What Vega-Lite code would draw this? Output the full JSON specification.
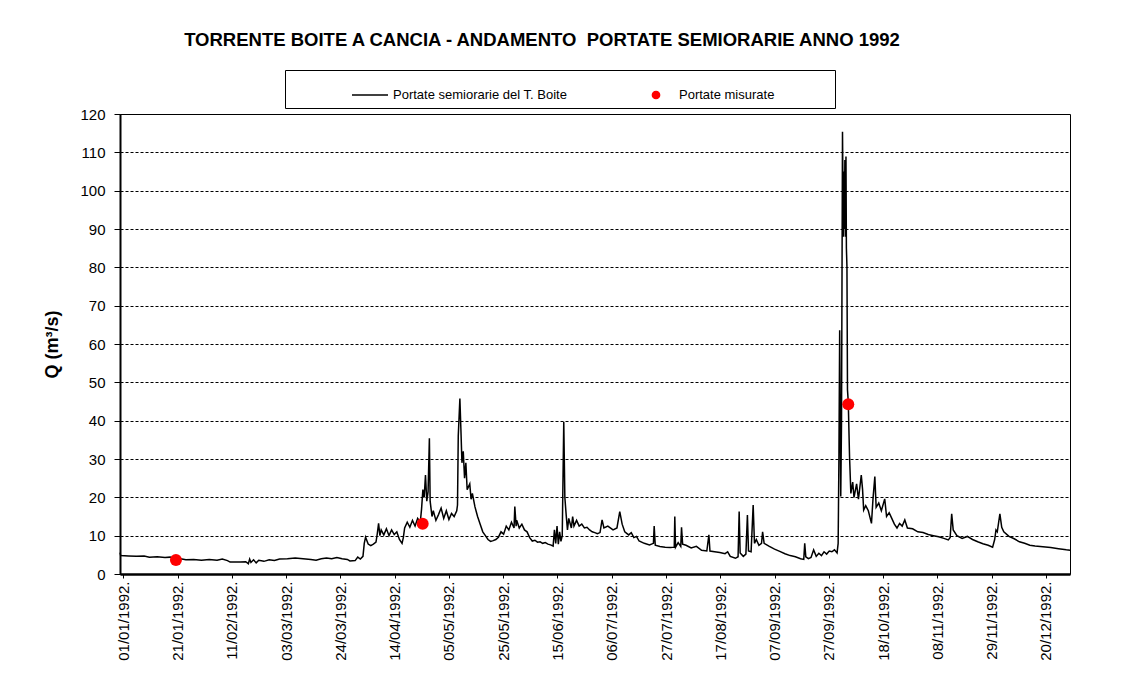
{
 "$schema": "https://vega.github.io/schema/vega-lite/v6.json",
 "width": 950, "height": 460,
 "autosize": "none",
 "padding": {"left": 120, "top": 114, "right": 60, "bottom": 119},
 "background": "white",
 "config": {"font": "Liberation Sans", "view": {"stroke": "black", "strokeWidth": 1}},
 "title": {"text": "TORRENTE BOITE A CANCIA - ANDAMENTO\u00a0 PORTATE SEMIORARIE ANNO 1992", "fontSize": 18.5, "fontWeight": "bold", "color": "black", "anchor": "middle", "dx": -53, "offset": 20, "font": "Liberation Sans"},
 "datasets": {
  "portate": [
   {"t":"1991-12-30T18:00Z","q":5.6},{"t":"1991-12-31T00:00Z","q":4.8},{"t":"1992-01-03T00:00Z","q":4.7},{"t":"1992-01-06T00:00Z","q":4.6},{"t":"1992-01-09T00:00Z","q":4.7},{"t":"1992-01-11T00:00Z","q":4.4},{"t":"1992-01-14T00:00Z","q":4.5},{"t":"1992-01-17T00:00Z","q":4.3},{"t":"1992-01-19T00:00Z","q":4.4},{"t":"1992-01-21T00:00Z","q":3.9},{"t":"1992-01-23T00:00Z","q":4.0},{"t":"1992-01-25T00:00Z","q":3.7},{"t":"1992-01-28T00:00Z","q":3.8},{"t":"1992-01-31T00:00Z","q":3.6},
   {"t":"1992-02-03T00:00Z","q":3.8},{"t":"1992-02-06T00:00Z","q":3.6},{"t":"1992-02-08T00:00Z","q":3.9},{"t":"1992-02-10T00:00Z","q":3.5},{"t":"1992-02-11T00:00Z","q":3.1},{"t":"1992-02-15T00:00Z","q":3.1},{"t":"1992-02-17T00:00Z","q":3.2},{"t":"1992-02-18T00:00Z","q":2.7},{"t":"1992-02-18T12:00Z","q":3.9},{"t":"1992-02-19T00:00Z","q":3.0},{"t":"1992-02-20T00:00Z","q":3.7},{"t":"1992-02-21T00:00Z","q":2.9},{"t":"1992-02-22T00:00Z","q":3.6},{"t":"1992-02-24T00:00Z","q":3.3},{"t":"1992-02-26T00:00Z","q":3.7},{"t":"1992-02-28T00:00Z","q":3.5},
   {"t":"1992-03-01T00:00Z","q":3.9},{"t":"1992-03-04T00:00Z","q":4.0},{"t":"1992-03-07T00:00Z","q":4.2},{"t":"1992-03-10T00:00Z","q":4.0},{"t":"1992-03-13T00:00Z","q":3.8},{"t":"1992-03-15T00:00Z","q":3.6},{"t":"1992-03-17T00:00Z","q":4.0},{"t":"1992-03-19T00:00Z","q":4.2},{"t":"1992-03-21T00:00Z","q":4.0},{"t":"1992-03-23T00:00Z","q":4.3},{"t":"1992-03-25T00:00Z","q":4.0},{"t":"1992-03-27T00:00Z","q":3.8},{"t":"1992-03-28T00:00Z","q":3.4},{"t":"1992-03-30T00:00Z","q":3.5},{"t":"1992-03-31T00:00Z","q":4.4},
   {"t":"1992-04-01T00:00Z","q":3.9},{"t":"1992-04-02T00:00Z","q":4.6},{"t":"1992-04-02T12:00Z","q":8.0},{"t":"1992-04-03T00:00Z","q":9.6},{"t":"1992-04-04T00:00Z","q":7.8},{"t":"1992-04-05T00:00Z","q":7.4},{"t":"1992-04-06T00:00Z","q":7.8},{"t":"1992-04-07T00:00Z","q":8.3},{"t":"1992-04-07T12:00Z","q":10.5},{"t":"1992-04-08T00:00Z","q":13.2},{"t":"1992-04-08T12:00Z","q":10.0},{"t":"1992-04-09T00:00Z","q":11.5},{"t":"1992-04-10T00:00Z","q":10.2},{"t":"1992-04-11T00:00Z","q":11.8},{"t":"1992-04-12T00:00Z","q":10.0},{"t":"1992-04-13T00:00Z","q":11.5},{"t":"1992-04-14T00:00Z","q":10.3},{"t":"1992-04-15T00:00Z","q":11.0},{"t":"1992-04-16T00:00Z","q":9.0},{"t":"1992-04-17T00:00Z","q":8.0},{"t":"1992-04-17T12:00Z","q":9.5},{"t":"1992-04-18T00:00Z","q":12.0},{"t":"1992-04-19T00:00Z","q":13.5},{"t":"1992-04-20T00:00Z","q":12.2},{"t":"1992-04-21T00:00Z","q":14.0},{"t":"1992-04-22T00:00Z","q":12.5},{"t":"1992-04-23T00:00Z","q":14.5},{"t":"1992-04-24T00:00Z","q":13.5},{"t":"1992-04-24T12:00Z","q":17.0},{"t":"1992-04-25T00:00Z","q":22.0},{"t":"1992-04-25T12:00Z","q":20.0},{"t":"1992-04-26T00:00Z","q":25.8},{"t":"1992-04-26T12:00Z","q":19.0},{"t":"1992-04-27T00:00Z","q":21.5},{"t":"1992-04-27T12:00Z","q":35.4},{"t":"1992-04-27T19:00Z","q":19.0},{"t":"1992-04-28T12:00Z","q":15.0},{"t":"1992-04-29T00:00Z","q":16.5},{"t":"1992-04-30T00:00Z","q":14.0},
   {"t":"1992-05-01T00:00Z","q":15.5},{"t":"1992-05-02T00:00Z","q":17.2},{"t":"1992-05-03T00:00Z","q":14.5},{"t":"1992-05-04T00:00Z","q":16.5},{"t":"1992-05-05T00:00Z","q":14.2},{"t":"1992-05-06T00:00Z","q":15.8},{"t":"1992-05-07T00:00Z","q":15.0},{"t":"1992-05-08T00:00Z","q":16.5},{"t":"1992-05-08T07:00Z","q":18.0},{"t":"1992-05-08T14:00Z","q":36.0},{"t":"1992-05-09T05:00Z","q":45.8},{"t":"1992-05-09T14:00Z","q":38.0},{"t":"1992-05-10T00:00Z","q":29.0},{"t":"1992-05-10T12:00Z","q":32.0},{"t":"1992-05-11T00:00Z","q":25.0},{"t":"1992-05-11T12:00Z","q":29.0},{"t":"1992-05-12T00:00Z","q":22.0},{"t":"1992-05-13T00:00Z","q":23.5},{"t":"1992-05-13T12:00Z","q":19.5},{"t":"1992-05-14T00:00Z","q":21.0},{"t":"1992-05-15T00:00Z","q":17.5},{"t":"1992-05-16T00:00Z","q":15.0},{"t":"1992-05-17T00:00Z","q":13.0},{"t":"1992-05-18T00:00Z","q":11.0},{"t":"1992-05-19T00:00Z","q":10.0},{"t":"1992-05-20T00:00Z","q":9.0},{"t":"1992-05-21T00:00Z","q":8.5},{"t":"1992-05-22T00:00Z","q":8.7},{"t":"1992-05-23T00:00Z","q":9.0},{"t":"1992-05-24T00:00Z","q":9.6},{"t":"1992-05-25T00:00Z","q":11.0},{"t":"1992-05-26T00:00Z","q":10.4},{"t":"1992-05-27T00:00Z","q":12.5},{"t":"1992-05-28T00:00Z","q":11.5},{"t":"1992-05-29T00:00Z","q":13.5},{"t":"1992-05-30T00:00Z","q":12.0},{"t":"1992-05-30T07:00Z","q":17.6},{"t":"1992-05-30T19:00Z","q":12.5},{"t":"1992-05-31T00:00Z","q":14.0},
   {"t":"1992-06-01T00:00Z","q":12.0},{"t":"1992-06-02T00:00Z","q":13.0},{"t":"1992-06-03T00:00Z","q":11.5},{"t":"1992-06-04T00:00Z","q":11.0},{"t":"1992-06-05T00:00Z","q":9.5},{"t":"1992-06-06T00:00Z","q":8.6},{"t":"1992-06-07T00:00Z","q":8.8},{"t":"1992-06-08T00:00Z","q":8.3},{"t":"1992-06-09T00:00Z","q":8.4},{"t":"1992-06-10T00:00Z","q":8.0},{"t":"1992-06-11T00:00Z","q":8.2},{"t":"1992-06-12T00:00Z","q":7.8},{"t":"1992-06-13T00:00Z","q":7.6},{"t":"1992-06-14T00:00Z","q":7.3},{"t":"1992-06-14T12:00Z","q":11.5},{"t":"1992-06-15T00:00Z","q":8.0},{"t":"1992-06-15T12:00Z","q":12.5},{"t":"1992-06-16T00:00Z","q":7.8},{"t":"1992-06-16T12:00Z","q":11.0},{"t":"1992-06-17T00:00Z","q":8.5},{"t":"1992-06-17T12:00Z","q":10.0},{"t":"1992-06-18T02:00Z","q":39.7},{"t":"1992-06-18T12:00Z","q":20.0},{"t":"1992-06-19T00:00Z","q":15.5},{"t":"1992-06-19T12:00Z","q":11.5},{"t":"1992-06-20T00:00Z","q":14.5},{"t":"1992-06-21T00:00Z","q":12.0},{"t":"1992-06-21T12:00Z","q":15.0},{"t":"1992-06-22T00:00Z","q":12.5},{"t":"1992-06-23T00:00Z","q":14.0},{"t":"1992-06-24T00:00Z","q":12.5},{"t":"1992-06-25T00:00Z","q":13.0},{"t":"1992-06-26T00:00Z","q":12.0},{"t":"1992-06-27T00:00Z","q":12.2},{"t":"1992-06-28T00:00Z","q":11.5},{"t":"1992-06-29T00:00Z","q":11.0},{"t":"1992-06-30T00:00Z","q":10.8},
   {"t":"1992-07-01T00:00Z","q":10.5},{"t":"1992-07-02T00:00Z","q":10.8},{"t":"1992-07-02T19:00Z","q":14.1},{"t":"1992-07-03T12:00Z","q":12.0},{"t":"1992-07-05T00:00Z","q":12.5},{"t":"1992-07-07T00:00Z","q":11.5},{"t":"1992-07-08T12:00Z","q":12.0},{"t":"1992-07-09T14:00Z","q":16.3},{"t":"1992-07-10T12:00Z","q":13.0},{"t":"1992-07-11T12:00Z","q":11.0},{"t":"1992-07-13T00:00Z","q":10.2},{"t":"1992-07-14T00:00Z","q":10.8},{"t":"1992-07-15T00:00Z","q":9.5},{"t":"1992-07-16T00:00Z","q":9.8},{"t":"1992-07-17T00:00Z","q":8.6},{"t":"1992-07-19T00:00Z","q":8.0},{"t":"1992-07-21T00:00Z","q":7.6},{"t":"1992-07-22T12:00Z","q":8.0},{"t":"1992-07-22T19:00Z","q":12.5},{"t":"1992-07-23T05:00Z","q":7.5},{"t":"1992-07-25T00:00Z","q":7.2},{"t":"1992-07-27T00:00Z","q":7.0},{"t":"1992-07-29T00:00Z","q":6.9},{"t":"1992-07-30T12:00Z","q":7.0},{"t":"1992-07-30T17:00Z","q":15.0},{"t":"1992-07-31T00:00Z","q":7.0},
   {"t":"1992-08-01T00:00Z","q":8.2},{"t":"1992-08-02T00:00Z","q":7.2},{"t":"1992-08-02T07:00Z","q":12.2},{"t":"1992-08-02T17:00Z","q":7.8},{"t":"1992-08-04T00:00Z","q":7.5},{"t":"1992-08-06T00:00Z","q":6.8},{"t":"1992-08-08T00:00Z","q":7.2},{"t":"1992-08-10T00:00Z","q":6.2},{"t":"1992-08-12T00:00Z","q":6.0},{"t":"1992-08-12T19:00Z","q":10.2},{"t":"1992-08-13T05:00Z","q":6.0},{"t":"1992-08-15T00:00Z","q":5.8},{"t":"1992-08-17T00:00Z","q":5.6},{"t":"1992-08-19T00:00Z","q":5.3},{"t":"1992-08-20T00:00Z","q":5.8},{"t":"1992-08-21T00:00Z","q":4.6},{"t":"1992-08-23T00:00Z","q":4.1},{"t":"1992-08-24T00:00Z","q":4.5},{"t":"1992-08-24T10:00Z","q":16.3},{"t":"1992-08-24T19:00Z","q":5.5},{"t":"1992-08-26T00:00Z","q":4.6},{"t":"1992-08-27T00:00Z","q":5.2},{"t":"1992-08-27T14:00Z","q":15.4},{"t":"1992-08-28T00:00Z","q":6.0},{"t":"1992-08-29T00:00Z","q":5.8},{"t":"1992-08-29T19:00Z","q":18.0},{"t":"1992-08-30T07:00Z","q":8.0},{"t":"1992-08-31T00:00Z","q":9.0},
   {"t":"1992-09-01T00:00Z","q":7.5},{"t":"1992-09-02T00:00Z","q":8.0},{"t":"1992-09-02T10:00Z","q":11.0},{"t":"1992-09-03T00:00Z","q":8.0},{"t":"1992-09-05T00:00Z","q":7.2},{"t":"1992-09-07T00:00Z","q":6.5},{"t":"1992-09-09T00:00Z","q":5.9},{"t":"1992-09-11T00:00Z","q":5.3},{"t":"1992-09-13T00:00Z","q":4.8},{"t":"1992-09-15T00:00Z","q":4.5},{"t":"1992-09-17T00:00Z","q":4.0},{"t":"1992-09-18T05:00Z","q":3.8},{"t":"1992-09-18T14:00Z","q":8.0},{"t":"1992-09-19T00:00Z","q":4.5},{"t":"1992-09-20T00:00Z","q":4.0},{"t":"1992-09-21T00:00Z","q":4.3},{"t":"1992-09-22T00:00Z","q":6.3},{"t":"1992-09-23T00:00Z","q":4.6},{"t":"1992-09-24T00:00Z","q":5.4},{"t":"1992-09-25T00:00Z","q":4.8},{"t":"1992-09-26T00:00Z","q":5.8},{"t":"1992-09-27T00:00Z","q":5.2},{"t":"1992-09-28T00:00Z","q":6.0},{"t":"1992-09-29T00:00Z","q":5.8},{"t":"1992-09-30T00:00Z","q":6.3},
   {"t":"1992-10-01T00:00Z","q":5.5},{"t":"1992-10-01T10:00Z","q":8.0},{"t":"1992-10-01T17:00Z","q":30.0},{"t":"1992-10-02T00:00Z","q":63.6},{"t":"1992-10-02T10:00Z","q":20.2},{"t":"1992-10-02T17:00Z","q":40.0},{"t":"1992-10-03T02:00Z","q":115.4},{"t":"1992-10-03T10:00Z","q":88.0},{"t":"1992-10-03T14:00Z","q":105.0},{"t":"1992-10-03T19:00Z","q":90.0},{"t":"1992-10-04T00:00Z","q":108.0},{"t":"1992-10-04T05:00Z","q":88.0},{"t":"1992-10-04T10:00Z","q":108.9},{"t":"1992-10-04T14:00Z","q":85.0},{"t":"1992-10-04T19:00Z","q":80.2},{"t":"1992-10-05T00:00Z","q":48.0},{"t":"1992-10-05T07:00Z","q":45.0},{"t":"1992-10-05T19:00Z","q":30.6},{"t":"1992-10-06T07:00Z","q":21.0},{"t":"1992-10-07T00:00Z","q":24.0},{"t":"1992-10-07T12:00Z","q":20.0},{"t":"1992-10-08T12:00Z","q":23.5},{"t":"1992-10-09T05:00Z","q":19.5},{"t":"1992-10-10T07:00Z","q":25.8},{"t":"1992-10-10T19:00Z","q":22.0},{"t":"1992-10-11T05:00Z","q":16.7},{"t":"1992-10-12T00:00Z","q":17.8},{"t":"1992-10-13T00:00Z","q":16.5},{"t":"1992-10-14T05:00Z","q":13.2},{"t":"1992-10-14T19:00Z","q":19.6},{"t":"1992-10-15T12:00Z","q":25.4},{"t":"1992-10-16T00:00Z","q":17.4},{"t":"1992-10-17T00:00Z","q":18.5},{"t":"1992-10-18T00:00Z","q":16.5},{"t":"1992-10-19T07:00Z","q":19.6},{"t":"1992-10-20T00:00Z","q":15.0},{"t":"1992-10-21T00:00Z","q":16.0},{"t":"1992-10-22T00:00Z","q":14.5},{"t":"1992-10-23T00:00Z","q":13.0},{"t":"1992-10-24T00:00Z","q":12.0},{"t":"1992-10-25T00:00Z","q":13.2},{"t":"1992-10-26T00:00Z","q":12.5},{"t":"1992-10-27T00:00Z","q":14.1},{"t":"1992-10-28T00:00Z","q":12.0},{"t":"1992-10-30T00:00Z","q":11.8},
   {"t":"1992-11-01T00:00Z","q":11.0},{"t":"1992-11-03T00:00Z","q":10.8},{"t":"1992-11-05T00:00Z","q":10.3},{"t":"1992-11-07T00:00Z","q":10.0},{"t":"1992-11-09T00:00Z","q":9.7},{"t":"1992-11-11T00:00Z","q":9.3},{"t":"1992-11-12T17:00Z","q":8.9},{"t":"1992-11-13T10:00Z","q":9.5},{"t":"1992-11-14T00:00Z","q":15.7},{"t":"1992-11-14T14:00Z","q":11.5},{"t":"1992-11-16T00:00Z","q":10.0},{"t":"1992-11-18T00:00Z","q":9.3},{"t":"1992-11-20T00:00Z","q":9.8},{"t":"1992-11-22T00:00Z","q":9.0},{"t":"1992-11-24T00:00Z","q":8.4},{"t":"1992-11-26T00:00Z","q":7.9},{"t":"1992-11-28T00:00Z","q":7.5},{"t":"1992-11-29T17:00Z","q":7.0},{"t":"1992-11-30T12:00Z","q":9.0},
   {"t":"1992-12-01T00:00Z","q":11.5},{"t":"1992-12-01T12:00Z","q":11.0},{"t":"1992-12-02T12:00Z","q":15.7},{"t":"1992-12-03T05:00Z","q":12.2},{"t":"1992-12-04T00:00Z","q":11.0},{"t":"1992-12-06T00:00Z","q":9.8},{"t":"1992-12-08T00:00Z","q":9.2},{"t":"1992-12-10T00:00Z","q":8.4},{"t":"1992-12-12T00:00Z","q":8.0},{"t":"1992-12-14T00:00Z","q":7.5},{"t":"1992-12-16T00:00Z","q":7.3},{"t":"1992-12-19T00:00Z","q":7.1},{"t":"1992-12-22T00:00Z","q":6.9},{"t":"1992-12-25T00:00Z","q":6.6},{"t":"1992-12-28T00:00Z","q":6.3},{"t":"1992-12-29T10:00Z","q":6.2}
  ],
  "misure": [
   {"t":"1992-01-21T05:00Z","q":3.65},
   {"t":"1992-04-24T22:00Z","q":13.1},
   {"t":"1992-10-05T07:00Z","q":44.3}
  ]
 },
 "encoding": {
  "x": {"field": "t", "type": "temporal",
   "scale": {"type": "utc", "domain": [{"year":1991,"month":12,"date":30,"hours":17,"minutes":36,"utc":true},{"year":1992,"month":12,"date":29,"hours":10,"utc":true}]},
   "axis": {
    "values": [
     {"year":1992,"month":1,"date":1,"utc":true},{"year":1992,"month":1,"date":21,"hours":20,"utc":true},{"year":1992,"month":2,"date":11,"hours":16,"utc":true},{"year":1992,"month":3,"date":3,"hours":12,"utc":true},{"year":1992,"month":3,"date":24,"hours":8,"utc":true},{"year":1992,"month":4,"date":14,"hours":4,"utc":true},{"year":1992,"month":5,"date":5,"utc":true},{"year":1992,"month":5,"date":25,"hours":20,"utc":true},{"year":1992,"month":6,"date":15,"hours":16,"utc":true},{"year":1992,"month":7,"date":6,"hours":12,"utc":true},{"year":1992,"month":7,"date":27,"hours":8,"utc":true},{"year":1992,"month":8,"date":17,"hours":4,"utc":true},{"year":1992,"month":9,"date":7,"utc":true},{"year":1992,"month":9,"date":27,"hours":20,"utc":true},{"year":1992,"month":10,"date":18,"hours":16,"utc":true},{"year":1992,"month":11,"date":8,"hours":12,"utc":true},{"year":1992,"month":11,"date":29,"hours":8,"utc":true},{"year":1992,"month":12,"date":20,"hours":4,"utc":true}
    ],
    "labelExpr": "utcFormat(datum.value, '%d/%m/%Y') + '.'",
    "labelAngle": 270, "labelFontSize": 15, "labelColor": "black", "labelFont": "Liberation Sans",
    "labelPadding": 3, "labelOverlap": false, "labelBound": false, "labelFlush": false,
    "tickColor": "black", "tickSize": 4, "tickWidth": 1,
    "domainColor": "black", "domainWidth": 2.5,
    "grid": false, "title": null
   }
  },
  "y": {"field": "q", "type": "quantitative",
   "scale": {"domain": [0, 120], "nice": false, "zero": true},
   "axis": {
    "values": [0,10,20,30,40,50,60,70,80,90,100,110,120],
    "title": "Q (m³/s)", "titleFontSize": 18, "titleFontWeight": "bold", "titleColor": "black", "titleFont": "Liberation Sans", "titlePadding": 18,
    "labelFontSize": 15, "labelColor": "black", "labelFont": "Liberation Sans", "labelPadding": 9, "labelOverlap": false,
    "grid": true, "gridColor": "black", "gridDash": [3, 2], "gridWidth": 1, "gridOpacity": 1,
    "domainColor": "black", "domainWidth": 2,
    "tickColor": "black", "tickSize": 6, "tickWidth": 1
   }
  }
 },
 "layer": [
  {
   "data": {"name": "portate"},
   "mark": {"type": "line", "strokeWidth": 1.5},
   "encoding": {
    "color": {"datum": "Portate semiorarie del T. Boite", "type": "nominal",
     "scale": {"domain": ["Portate semiorarie del T. Boite", "Portate misurate"], "range": ["black", "#ff0000"]},
     "legend": {
      "orient": "none", "legendX": 165, "legendY": -44, "direction": "horizontal",
      "title": "\u200b\u00a0\u00a0\u00a0\u00a0\u00a0\u00a0\u00a0\u00a0\u00a0\u00a0\u00a0\u00a0\u00a0\u00a0\u00a0\u200b",
      "titleOrient": "left", "titleFontSize": 10, "titlePadding": 6, "titleColor": "white",
      "padding": 6, "strokeColor": "black", "fillColor": "white",
      "labelFontSize": 13, "labelColor": "black", "labelFont": "Liberation Sans", "labelLimit": 400,
      "labelExpr": "datum.value === 'Portate misurate' ? datum.label + '\u00a0\u00a0\u00a0\u00a0\u00a0\u00a0\u00a0\u00a0\u00a0\u00a0\u00a0\u00a0\u00a0\u00a0\u00a0\u200b' : datum.label",
      "symbolType": "stroke", "symbolSize": 100, "symbolOffset": 12, "labelOffset": 4, "columnPadding": 57, "symbolStrokeWidth": 1.3,
      "encode": {"symbols": {"update": {
       "shape": {"signal": "datum.value === 'Portate misurate' ? 'circle' : 'stroke'"},
       "size": {"signal": "datum.value === 'Portate misurate' ? 55 : 1296"},
       "fill": {"signal": "datum.value === 'Portate misurate' ? '#ff0000' : 'transparent'"},
       "stroke": {"signal": "datum.value === 'Portate misurate' ? '#ff0000' : 'black'"},
       "strokeWidth": {"value": 1.3},
       "opacity": {"value": 1}
      }}}
     }
    }
   }
  },
  {
   "data": {"name": "misure"},
   "mark": {"type": "point", "filled": true, "size": 145, "opacity": 1},
   "encoding": {
    "color": {"datum": "Portate misurate", "type": "nominal"}
   }
  }
 ]
}
